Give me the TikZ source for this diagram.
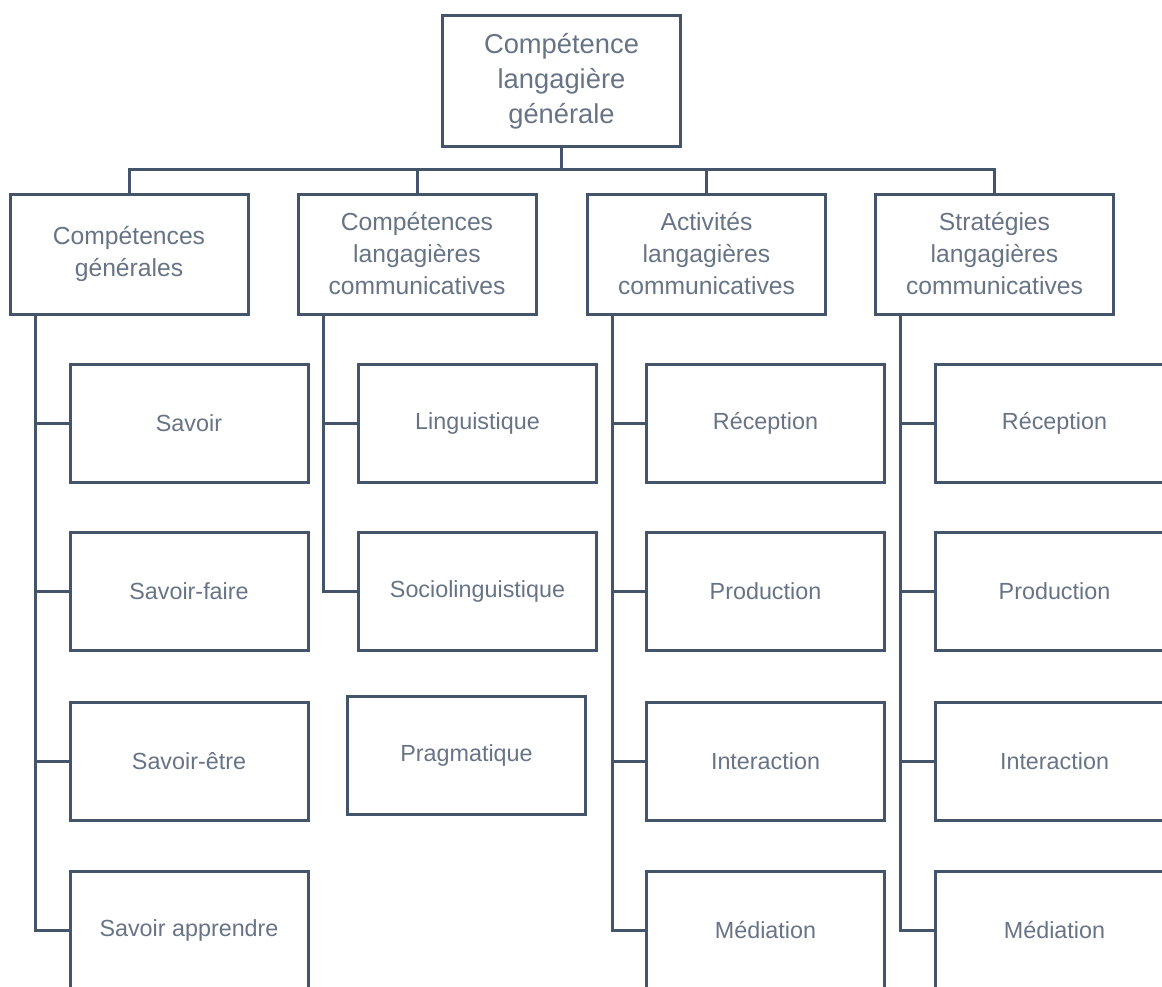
\documentclass[tikz,border=0pt]{standalone}
\usepackage{fontspec}
\setmainfont{Liberation Sans}
\usetikzlibrary{positioning}

\definecolor{linec}{RGB}{68,84,106}
\definecolor{textc}{RGB}{104,116,134}

\tikzset{
  box/.style={draw=linec, line width=2.25pt, fill=white, inner sep=0pt, align=center, text=textc,
    minimum width=178.5pt},
  headbox/.style={box, minimum height=98pt, font=\fontsize{20.5}{26.3}\selectfont},
  groupbox/.style={box, minimum height=90pt, font=\fontsize{18.5}{24}\selectfont},
  leafbox/.style={box, minimum height=88.5pt, font=\fontsize{17.5}{22}\selectfont},
  link/.style={draw=linec, line width=2.25pt}
}

\begin{document}
\begin{tikzpicture}[x=0.75pt,y=0.75pt,yscale=-1,xscale=1]
  \useasboundingbox (0,0) rectangle (1162,986);
  \clip (0,0) rectangle (1162,986);

  % Top
  \node[headbox] (top) at (561.5,81) {Compétence\\langagière\\générale};

  % Groups
  \node[groupbox] (g1) at (129,254) {Compétences\\générales};
  \node[groupbox] (g2) at (417,254) {Compétences\\langagières\\communicatives};
  \node[groupbox] (g3) at (706.5,254) {Activités\\langagières\\communicatives};
  \node[groupbox] (g4) at (994.5,254) {Stratégies\\langagières\\communicatives};

  % Leaves, column 1
  \node[leafbox] (s1) at (189,423) {Savoir};
  \node[leafbox] (s2) at (189,591.5) {Savoir-faire};
  \node[leafbox] (s3) at (189,761) {Savoir-être};
  \node[leafbox] (s4) at (189,930) {Savoir apprendre};

  % Leaves, column 2
  \node[leafbox] (l1) at (477.5,423) {Linguistique};
  \node[leafbox] (l2) at (477.5,591.5) {Sociolinguistique};
  \node[leafbox] (l3) at (466.5,755.5) {Pragmatique};

  % Leaves, column 3
  \node[leafbox] (a1) at (765.5,423) {Réception};
  \node[leafbox] (a2) at (765.5,591.5) {Production};
  \node[leafbox] (a3) at (765.5,761) {Interaction};
  \node[leafbox] (a4) at (765.5,930) {Médiation};

  % Leaves, column 4
  \node[leafbox] (r1) at (1054.5,423) {Réception};
  \node[leafbox] (r2) at (1054.5,591.5) {Production};
  \node[leafbox] (r3) at (1054.5,761) {Interaction};
  \node[leafbox] (r4) at (1054.5,930) {Médiation};

  % Top bar
  \coordinate (bar) at (561.5,169);
  \path[link] (top.south) -- (bar);
  \path[link] (g1.north) -- (g1.north |- bar) -- (g4.north |- bar) -- (g4.north);
  \path[link] (g2.north) -- (g2.north |- bar);
  \path[link] (g3.north) -- (g3.north |- bar);

  % Column stems
  \coordinate (t1) at (35,314);
  \coordinate (t2) at (323,314);
  \coordinate (t3) at (612,314);
  \coordinate (t4) at (900,314);

  \path[link] (t1) |- (s4.west);
  \path[link] (t1 |- s1.west) -- (s1.west);
  \path[link] (t1 |- s2.west) -- (s2.west);
  \path[link] (t1 |- s3.west) -- (s3.west);

  \path[link] (t2) |- (l2.west);
  \path[link] (t2 |- l1.west) -- (l1.west);

  \path[link] (t3) |- (a4.west);
  \path[link] (t3 |- a1.west) -- (a1.west);
  \path[link] (t3 |- a2.west) -- (a2.west);
  \path[link] (t3 |- a3.west) -- (a3.west);

  \path[link] (t4) |- (r4.west);
  \path[link] (t4 |- r1.west) -- (r1.west);
  \path[link] (t4 |- r2.west) -- (r2.west);
  \path[link] (t4 |- r3.west) -- (r3.west);
\end{tikzpicture}
\end{document}
